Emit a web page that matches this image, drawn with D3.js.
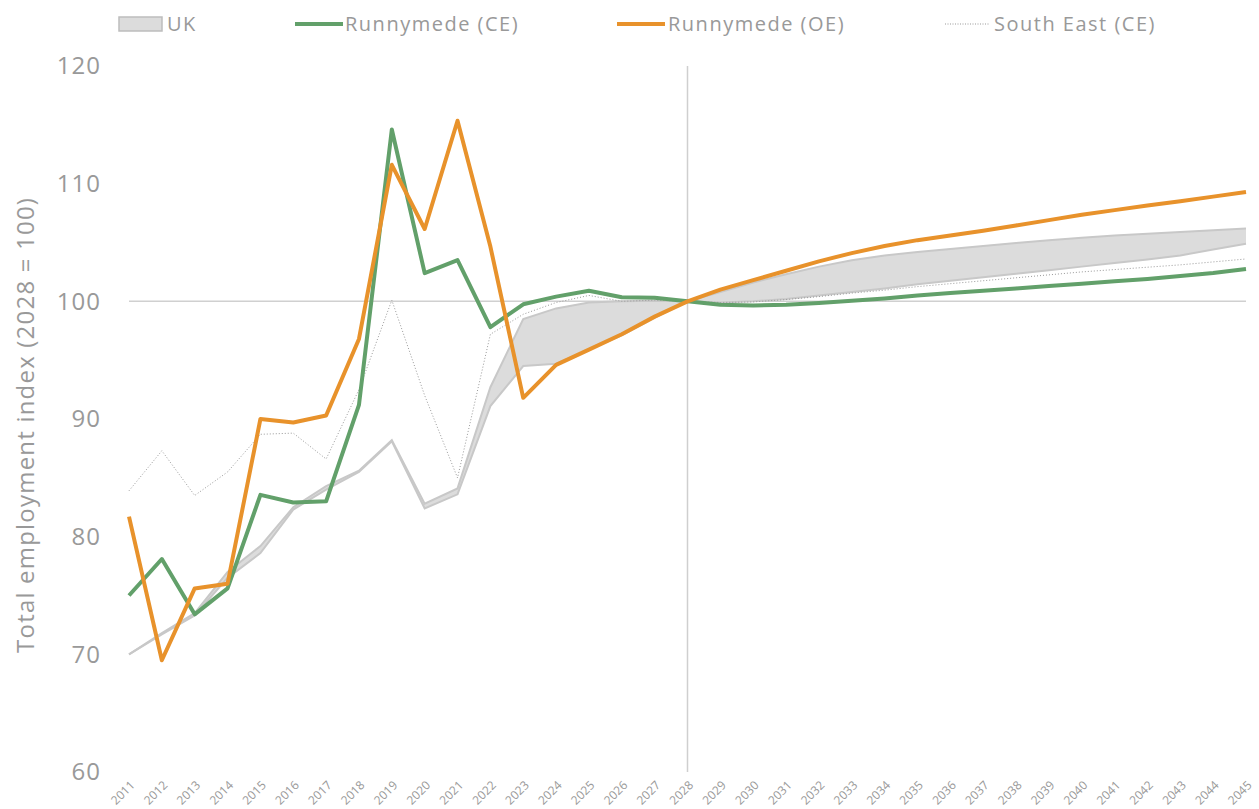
<!DOCTYPE html>
<html>
<head>
<meta charset="utf-8">
<script src="https://cdn.jsdelivr.net/npm/d3@7"></script>
<style>
  body { margin: 0; background: #fff; }
  text { font-family: "Open Sans", sans-serif; fill: #999; }
</style>
</head>
<body>
<div id="chart-area"></div>
<script>
// years on the x axis
var years = d3.range(2011, 2046);

// series values, index 2028 = 100
var ukUpper = [70.0, 71.8, 73.5, 77.0, 79.2, 82.5, 84.3, 85.6, 88.2, 82.8, 84.1, 92.7, 98.5, 99.4, 99.9, 100.0, 100.05, 100,
               100.8, 101.6, 102.3, 102.95, 103.5, 103.9, 104.2, 104.45, 104.7, 104.95, 105.2, 105.4, 105.6, 105.75, 105.9, 106.05, 106.2];
var ukLower = [70.0, 71.7, 73.3, 76.5, 78.6, 82.3, 84.0, 85.5, 88.1, 82.4, 83.6, 91.1, 94.5, 94.7, 95.9, 97.1, 98.6, 100,
               99.9, 100.0, 100.2, 100.5, 100.8, 101.1, 101.45, 101.75, 102.05, 102.35, 102.65, 102.95, 103.25, 103.55, 103.9, 104.4, 104.9];
var runnymedeCE = [75.0, 78.1, 73.4, 75.6, 83.55, 82.9, 83.0, 91.2, 114.6, 102.4, 103.5, 97.8, 99.75, 100.4, 100.9, 100.35, 100.3, 100,
                   99.7, 99.65, 99.7, 99.85, 100.05, 100.25, 100.5, 100.7, 100.9, 101.1, 101.3, 101.5, 101.7, 101.9, 102.15, 102.4, 102.75];
var runnymedeOE = [81.7, 69.5, 75.6, 76.0, 90.0, 89.7, 90.3, 96.8, 111.6, 106.15, 115.35, 104.65, 91.8, 94.6, 95.9, 97.2, 98.7, 100,
                   101.0, 101.8, 102.6, 103.4, 104.1, 104.7, 105.2, 105.6, 106.0, 106.45, 106.9, 107.35, 107.75, 108.15, 108.5, 108.9, 109.3];
var southEastCE = [83.9, 87.3, 83.5, 85.5, 88.7, 88.8, 86.6, 92.5, 100.1, 92.0, 85.0, 97.2, 98.9, 99.9, 100.5, 100.0, 100.1, 100,
                   99.9, 99.95, 100.15, 100.4, 100.7, 100.95, 101.25, 101.5, 101.75, 102.0, 102.25, 102.5, 102.7, 102.9, 103.1, 103.35, 103.6];
var yTicks = [60, 70, 80, 90, 100, 110, 120];
var baseYear = 2028;

var width = 1259, height = 809;
var svg = d3.select("#chart-area").append("svg")
  .attr("width", width)
  .attr("height", height);

var x = d3.scaleLinear().domain([2011, 2045]).range([129, 1246]);
var y = d3.scaleLinear().domain([60, 120]).range([772, 66]);

// 100 baseline and base year line
svg.append("line")
  .attr("x1", x(2011)).attr("x2", x(2045))
  .attr("y1", y(100)).attr("y2", y(100))
  .attr("stroke", "#d0d0d0").attr("stroke-width", 1.5);
svg.append("line")
  .attr("x1", x(baseYear)).attr("x2", x(baseYear))
  .attr("y1", y(120)).attr("y2", y(60))
  .attr("stroke", "#cfcfcf").attr("stroke-width", 1.5);

// y axis
var yAxis = d3.axisLeft(y).tickValues(yTicks).tickSize(0).tickPadding(0);
var gy = svg.append("g").attr("transform", "translate(101,0)").call(yAxis);
gy.select(".domain").remove();
gy.selectAll("text")
  .style("font-size", "24px")
  .style("letter-spacing", "1px")
  .attr("fill", "#999");

// x axis
var xAxis = d3.axisBottom(x).tickValues(years).tickFormat(d3.format("d")).tickSize(0);
var gx = svg.append("g").attr("transform", "translate(0,772)").call(xAxis);
gx.select(".domain").remove();
gx.selectAll("text")
  .attr("text-anchor", "end")
  .attr("dy", 0)
  .attr("y", 0)
  .attr("transform", "translate(6,14) rotate(-45)")
  .style("font-size", "12px")
  .attr("fill", "#999");

// axis title
svg.append("text")
  .attr("transform", "translate(34," + y(89.5) + ") rotate(-90)")
  .attr("text-anchor", "middle")
  .style("font-size", "24px")
  .style("letter-spacing", "1.2px")
  .text("Total employment index (2028 = 100)");

// UK band
var area = d3.area()
  .x(function(d, i) { return x(years[i]); })
  .y0(function(d, i) { return y(ukLower[i]); })
  .y1(function(d, i) { return y(ukUpper[i]); });
svg.append("path")
  .datum(ukUpper)
  .attr("d", area)
  .attr("fill", "#dcdcdc");

var line = d3.line()
  .x(function(d, i) { return x(years[i]); })
  .y(function(d) { return y(d); });

[ukUpper, ukLower].forEach(function(s) {
  svg.append("path")
    .datum(s)
    .attr("d", line)
    .attr("fill", "none")
    .attr("stroke", "#c8c8c8")
    .attr("stroke-width", 2);
});

// South East dotted
svg.append("path")
  .datum(southEastCE)
  .attr("d", line)
  .attr("fill", "none")
  .attr("stroke", "#999")
  .attr("stroke-width", 1)
  .attr("stroke-dasharray", "1,2");

// Runnymede lines
svg.append("path")
  .datum(runnymedeCE)
  .attr("d", line)
  .attr("fill", "none")
  .attr("stroke", "#62a06a")
  .attr("stroke-width", 4)
  .attr("stroke-linejoin", "round");

svg.append("path")
  .datum(runnymedeOE)
  .attr("d", line)
  .attr("fill", "none")
  .attr("stroke", "#e8922b")
  .attr("stroke-width", 4)
  .attr("stroke-linejoin", "round");

// legend
var legend = svg.append("g");
legend.append("rect")
  .attr("x", 119).attr("y", 17).attr("width", 43).attr("height", 14)
  .attr("fill", "#dcdcdc").attr("stroke", "#bdbdbd").attr("stroke-width", 1.5);
legend.append("text").attr("x", 167).attr("y", 31).style("font-size", "20px").style("letter-spacing", "1.5px").text("UK");

legend.append("line").attr("x1", 295).attr("x2", 343).attr("y1", 24).attr("y2", 24)
  .attr("stroke", "#62a06a").attr("stroke-width", 4);
legend.append("text").attr("x", 345).attr("y", 31).style("font-size", "20px").style("letter-spacing", "1.5px").text("Runnymede (CE)");

legend.append("line").attr("x1", 617).attr("x2", 665).attr("y1", 24).attr("y2", 24)
  .attr("stroke", "#e8922b").attr("stroke-width", 4);
legend.append("text").attr("x", 668).attr("y", 31).style("font-size", "20px").style("letter-spacing", "1.5px").text("Runnymede (OE)");

legend.append("line").attr("x1", 945).attr("x2", 990).attr("y1", 24).attr("y2", 24)
  .attr("stroke", "#999").attr("stroke-width", 1).attr("stroke-dasharray", "1,1.5");
legend.append("text").attr("x", 994).attr("y", 31).style("font-size", "20px").style("letter-spacing", "1.5px").text("South East (CE)");
</script>
</body>
</html>
